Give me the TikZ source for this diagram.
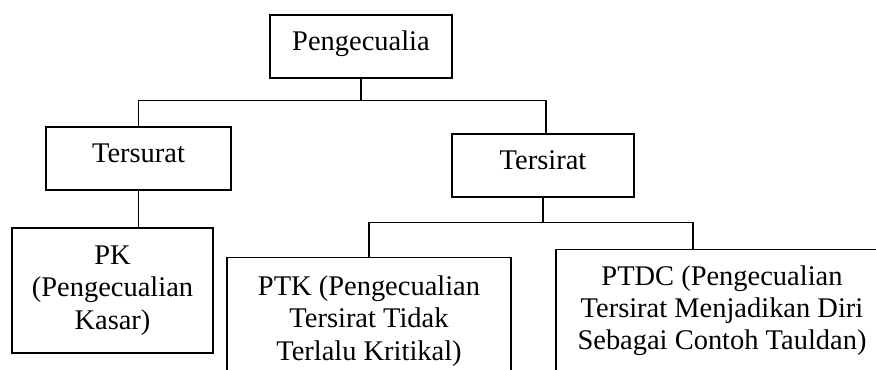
\documentclass[tikz,border=0pt]{standalone}
\usepackage{fontspec}
\setmainfont{Liberation Serif}
\begin{document}
\begin{tikzpicture}[
font=\fontsize{16.2}{18.4}\selectfont,
bx/.style = {draw,line width=0.8pt,minimum height=1.26cm,text height=0.7em,text depth=0.25em},
mbx/.style = {draw,line width=0.8pt,align=center},
cut/.style = {draw,line width=0.8pt,align=center,anchor=north,inner ysep=0pt,text depth=3cm},
ln/.style = {line width=0.8pt}
]
  \clip (0,0) rectangle (17.52,-7.38);

  \node[bx,minimum width=3.64cm] (top) at (7.22,-0.93) {Pengecualia};
  \node[bx,minimum width=3.70cm] (tersurat) at (2.77,-3.17) {Tersurat};
  \node[bx,minimum width=3.64cm] (tersirat) at (10.86,-3.31) {Tersirat};
  \node[mbx,minimum width=4.02cm,minimum height=2.5cm] (pk) at (2.25,-5.81) {PK\\(Pengecualian\\Kasar)};
  % baseline of the last line sits at text height
  \node[cut,minimum width=5.68cm,text height=2.05cm] (ptk) at (7.38,-5.14)
    {PTK (Pengecualian\\Tersirat Tidak\\Terlalu Kritikal)};
  \node[cut,minimum width=6.64cm,text height=2.0cm] (ptdc) at (14.44,-4.98)
    {PTDC (Pengecualian\\Tersirat Menjadikan Diri\\Sebagai Contoh Tauldan)};

  \coordinate (j1) at ([yshift=-0.44cm]top.south);
  \coordinate (j2) at ([yshift=-0.5cm]tersirat.south);

  \draw[ln] (top.south) -- (j1);
  \draw[ln] (j1) -| (tersurat.north);
  \draw[ln] (j1) -| ([xshift=0.06cm]tersirat.north);
  \draw[ln] (tersurat.south) -- (tersurat.south |- pk.north);
  \draw[ln] (tersirat.south) -- (j2);
  \draw[ln] (j2) -| (ptk.north);
  \draw[ln] (j2) -| ([xshift=-0.58cm]ptdc.north);
\end{tikzpicture}
\end{document}
